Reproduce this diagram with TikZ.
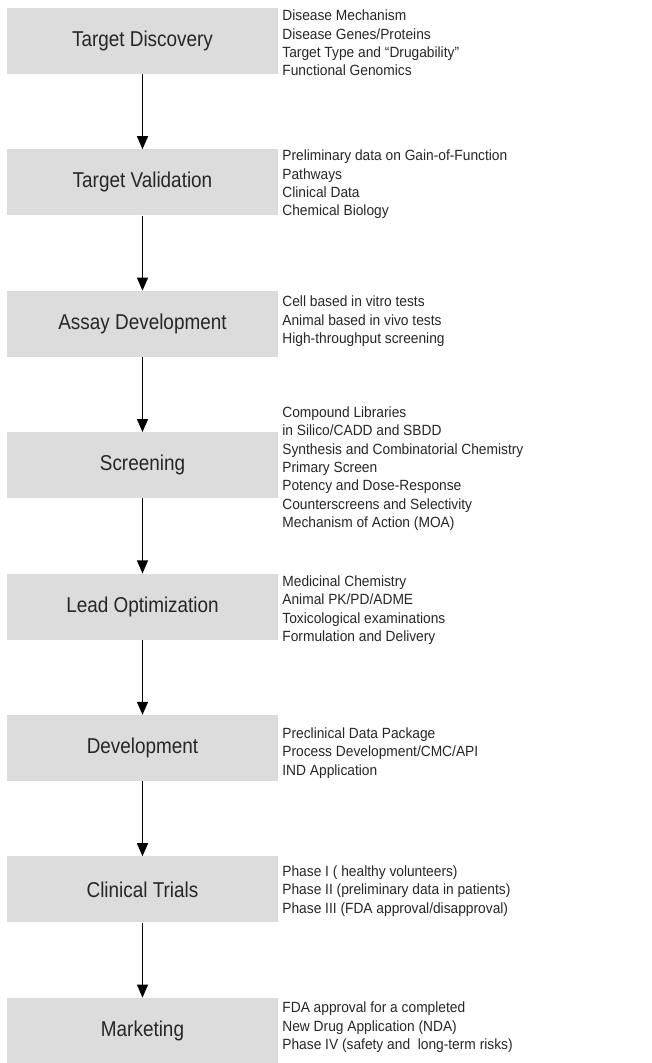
\documentclass[tikz,border=0pt]{standalone}
\usepackage{fontspec}
\setmainfont{Liberation Sans}
\newfontfamily\stagefont[FakeStretch=0.88]{Liberation Sans}
\newfontfamily\notefont[FakeStretch=0.93]{Liberation Sans}
\usetikzlibrary{positioning,arrows.meta}
\definecolor{boxgray}{HTML}{DCDCDC}
\definecolor{textgray}{HTML}{262626}
\begin{document}
\begin{tikzpicture}[x=1pt, y=1pt, node distance=141.4pt,
        stage/.style={fill=boxgray, minimum width=271pt, minimum height=66pt, inner sep=0pt,
            font=\stagefont\fontsize{21.5}{24}\selectfont, text=textgray},
        notes/.style={align=left, anchor=west, inner sep=0pt,
            font=\notefont\fontsize{14.8}{18.3}\selectfont, text=textgray},
        flow/.style={-{Triangle[length=13pt,width=11pt]}, line width=1.4pt}]
            \useasboundingbox (0,0) rectangle (651,-1063);

            \node[stage] (1) at (142.5,-41) {Target Discovery};
            \node[stage] (2) [below of=1] {Target Validation};
            \node[stage] (3) [below of=2] {Assay Development};
            \node[stage] (4) [below of=3] {Screening};
            \node[stage] (5) [below of=4] {Lead Optimization};
            \node[stage] (6) [below of=5] {Development};
            \node[stage] (7) [below of=6] {Clinical Trials};
            \node[stage] (8) [below of=7] {Marketing};

            \node[notes] (n1) at ([shift={(4pt,-2pt)}] 1.east) {Disease Mechanism\\Disease Genes/Proteins\\Target Type and “Drugability”\\Functional Genomics};
            \node[notes] (n2) at ([shift={(4pt,-2pt)}] 2.east) {Preliminary data on Gain-of-Function\\Pathways\\Clinical Data\\Chemical Biology};
            \node[notes] (n3) at ([shift={(4pt,2.5pt)}] 3.east) {Cell based in vitro tests\\Animal based in vivo tests\\High-throughput screening};
            \node[notes] (n4) at ([shift={(4pt,-3.5pt)}] 4.east) {Compound Libraries\\in Silico/CADD and SBDD\\Synthesis and Combinatorial Chemistry\\Primary Screen\\Potency and Dose-Response\\Counterscreens and Selectivity\\Mechanism of Action (MOA)};
            \node[notes] (n5) at ([shift={(4pt,-3.5pt)}] 5.east) {Medicinal Chemistry\\Animal PK/PD/ADME\\Toxicological examinations\\Formulation and Delivery};
            \node[notes] (n6) at ([shift={(4pt,-5pt)}] 6.east) {Preclinical Data Package\\Process Development/CMC/API\\IND Application};
            \node[notes] (n7) at ([shift={(4pt,-1.5pt)}] 7.east) {Phase I (\ healthy volunteers)\\Phase II (preliminary data in patients)\\Phase III (FDA approval/disapproval)};
            \node[notes] (n8) at ([shift={(4pt,3.5pt)}] 8.east) {FDA approval for a completed\\New Drug Application (NDA)\\Phase IV (safety and\ \ long-term risks)};

            \draw[flow] (1) -- (2);
            \draw[flow] (2) -- (3);
            \draw[flow] (3) -- (4);
            \draw[flow] (4) -- (5);
            \draw[flow] (5) -- (6);
            \draw[flow] (6) -- (7);
            \draw[flow] (7) -- (8);
        \end{tikzpicture}
\end{document}
